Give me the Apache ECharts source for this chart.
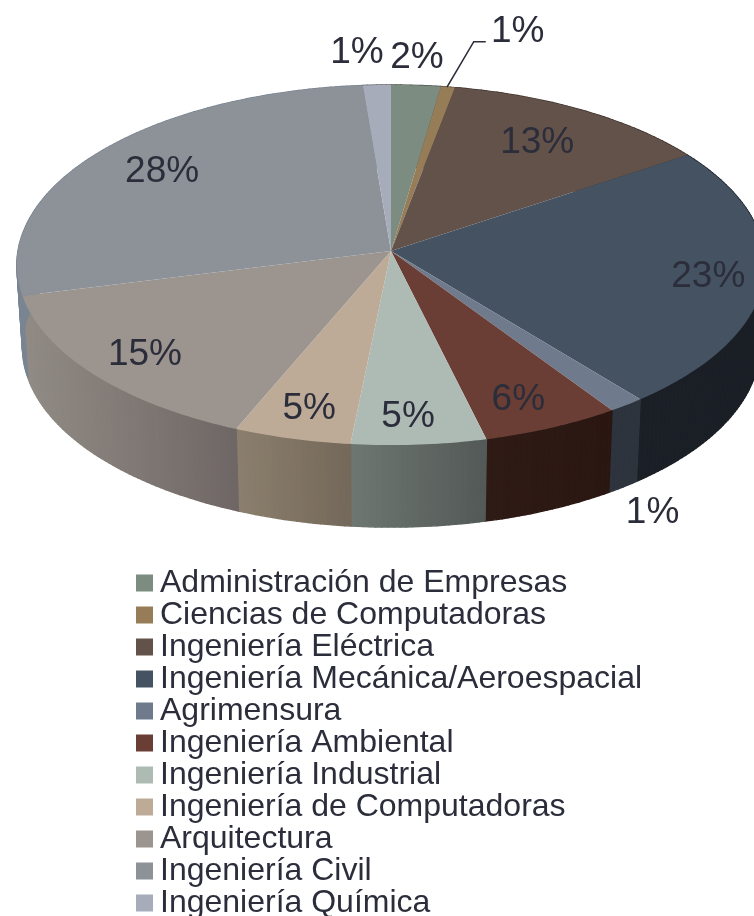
<!DOCTYPE html>
<html><head><meta charset="utf-8">
<style>html,body{margin:0;padding:0;background:#fff}#c{width:754px;height:916px}</style>
<script src="https://cdn.jsdelivr.net/npm/echarts@6/dist/echarts.min.js"></script>
</head><body><div id="c"></div>
<script>
const categories = ['Administración de Empresas','Ciencias de Computadoras','Ingeniería Eléctrica','Ingeniería Mecánica/Aeroespacial','Agrimensura','Ingeniería Ambiental','Ingeniería Industrial','Ingeniería de Computadoras','Arquitectura','Ingeniería Civil','Ingeniería Química'];
const shares = [2.3,0.66,12.6,23.64,1.45,5.55,5.4,4.7,14.75,27.65,1.3];
const pctLabels = ['2%','1%','13%','23%','1%','6%','5%','5%','15%','28%','1%'];
const topColors = ['#7c8c80','#967c57','#63524a','#445261','#6f7b8c','#6a3e35','#aebbb5','#bdab98','#9c948f','#8d9298','#a6acba'];
const wallFrom = ['#4d574f','#5d4d36','#3d332e','#1b1f26','#2e343d','#2f1b16','#6e7771','#8b7f6e','#918b85','#7a8593','#676b74'];
const wallTo   = ['#4d574f','#5d4d36','#3d332e','#1b1f26','#2e343d','#2b1712','#535957','#74685a','#6f6765','#7a8593','#676b74'];
const labelNudge = [[8,-75],[86,-102],[9,-8],[57,7],[100,156],[17,28],[-2,34],[-14,30],[-41,19],[-23,-9],[-24,-79]];

const G = {cx:391, cy:251, rx:373, ry:179, k:0.0779, depth:82, baseScale:0.985};
const ink = '#2b2d3a';
const FONT = '"Liberation Sans", Arial, sans-serif';

function project(pct, r){
  const t = pct/100*Math.PI*2, u = r*Math.sin(t), v = r*Math.cos(t), w = 1+G.k*v;
  return [G.cx+G.rx*u/w, G.cy-G.ry*v/w];
}
function arc(a,b){
  const n = Math.max(2,Math.ceil((b-a)*4)), p=[];
  for(let i=0;i<=n;i++) p.push(project(a+(b-a)*i/n,1));
  return p;
}
const drop = q => [G.cx+(q[0]-G.cx)*G.baseScale, q[1]+G.depth];
let cum = 0;
const spans = shares.map(s=>{const a=cum; cum+=s; return [a,cum];});

const wallSeries = {
  type:'custom', name:'_walls', coordinateSystem:'none', z:1, silent:true,
  data: spans.map((s,i)=>[s[0],s[1],i]),
  renderItem(p,api){
    const a=api.value(0), b=api.value(1), i=api.value(2);
    const top=arc(a,b), kids=[];
    const xs=top.map(q=>q[0]), x0=Math.min(...xs), x1=Math.max(...xs);
    for(let j=0;j<top.length-1;j++){
      const s=top[j], e=top[j+1], mid=(s[0]+e[0])/2;
      const t=x1>x0?(mid-x0)/(x1-x0):0;
      const c=echarts.color.lerp(t,[wallFrom[i],wallTo[i]]);
      kids.push({type:'polygon',shape:{points:[s,e,drop(e),drop(s)]},style:{fill:c,stroke:c,lineWidth:1.4,lineJoin:'round'}});
    }
    return {type:'group',children:kids};
  }
};
const topSeries = categories.map((name,i)=>({
  type:'custom', name, coordinateSystem:'none', z:2, silent:true,
  itemStyle:{color:topColors[i]},
  data:[[spans[i][0],spans[i][1]]],
  renderItem(p,api){
    const pts=[[G.cx,G.cy]].concat(arc(api.value(0),api.value(1)));
    return {type:'polygon',shape:{points:pts},style:{fill:topColors[i]}};
  }
}));
const labelSeries = {
  type:'custom', name:'_labels', coordinateSystem:'none', z:3, silent:true,
  data: spans.map((s,i)=>[(s[0]+s[1])/2,i]),
  renderItem(p,api){
    const i=api.value(1), q=project(api.value(0),0.7), n=labelNudge[i];
    const x=q[0]+n[0], y=q[1]+n[1];
    const kids=[{type:'text',style:{text:pctLabels[i],x,y,align:'center',verticalAlign:'middle',font:'37px '+FONT,fill:ink}}];
    if(i===1){
      const e=project(api.value(0),1);
      kids.push({type:'polyline',shape:{points:[[e[0]-1,e[1]],[x-44,y+10],[x-32,y+10]]},style:{stroke:ink,lineWidth:1.6,fill:null}});
    }
    return {type:'group',children:kids};
  }
};
const chart = echarts.init(document.getElementById('c'),null,{renderer:'canvas'});
chart.setOption({
  animation:false,
  legend:{orient:'vertical',left:136,top:567,width:600,height:380,itemWidth:17,itemHeight:17,itemGap:0,icon:'rect',padding:0,selectedMode:false,
    data:categories,textStyle:{fontFamily:FONT,fontSize:32,color:ink,lineHeight:32,padding:[0,0,0,2]}},
  series:[wallSeries,...topSeries,labelSeries]
});
</script></body></html>
